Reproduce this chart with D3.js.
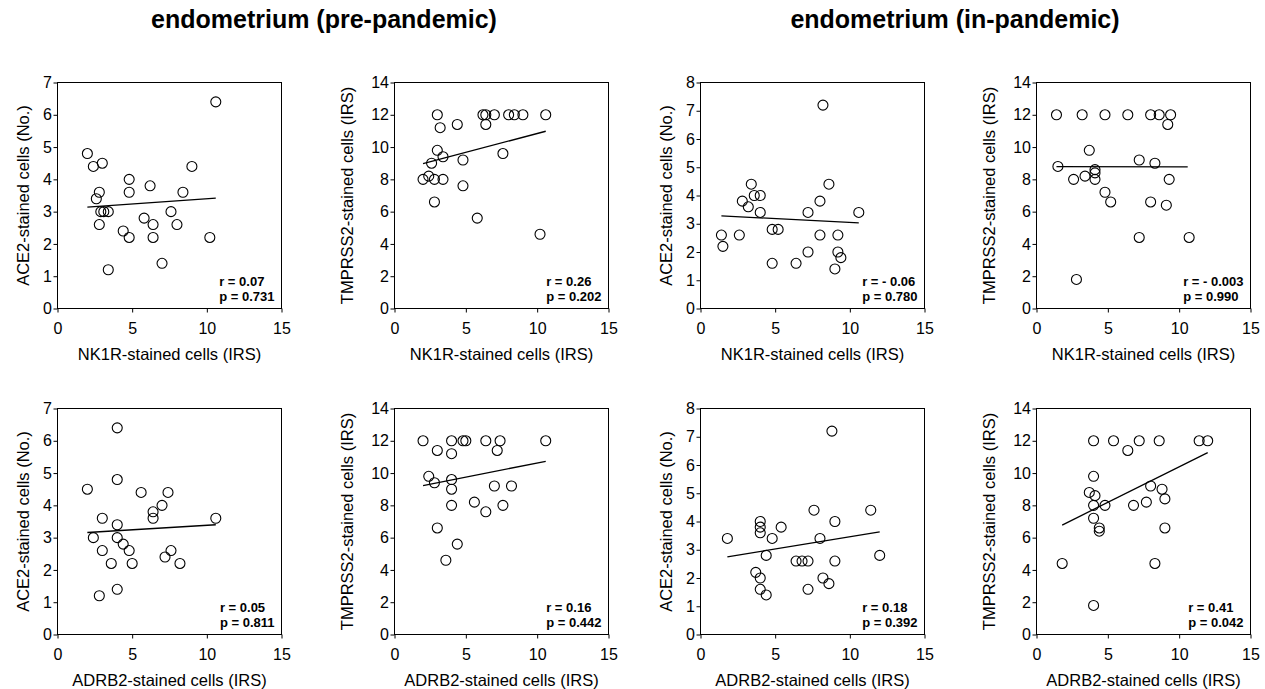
<!DOCTYPE html>
<html>
<head>
<meta charset="utf-8">
<script src="https://cdn.jsdelivr.net/npm/d3@7"></script>
<style>
  body { margin: 0; background: #fff; }
  svg { display: block; font-family: Arial, "Liberation Sans", sans-serif; }
</style>
</head>
<body>
<div id="chart"></div>
<script>
// ---- data ----
const titles = ["endometrium (pre-pandemic)", "endometrium (in-pandemic)"];
const xLabels = ["NK1R-stained cells (IRS)", "ADRB2-stained cells (IRS)"];
const yLabels = ["ACE2-stained cells (No.)", "TMPRSS2-stained cells (IRS)"];
const xTicks = [0, 5, 10, 15];
const yMaxes = [7, 14, 8, 14, 7, 14, 8, 14];
const yTickSteps = [1, 2, 1, 2, 1, 2, 1, 2];

const pre_nk1r_ace2 = [[10.6,6.4],[2.0,4.8],[2.4,4.4],[3.0,4.5],[9.0,4.4],[4.8,4.0],[6.2,3.8],[2.8,3.6],[4.8,3.6],[8.4,3.6],[2.6,3.4],[2.9,3.0],[3.1,3.0],[3.4,3.0],[7.6,3.0],[5.8,2.8],[2.8,2.6],[6.4,2.6],[8.0,2.6],[4.4,2.4],[4.8,2.2],[6.4,2.2],[10.2,2.2],[7.0,1.4],[3.4,1.2]];
const pre_nk1r_tmprss2 = [[3.0,12],[6.2,12],[6.4,12],[7.0,12],[8.0,12],[8.4,12],[9.0,12],[10.6,12],[4.4,11.4],[6.4,11.4],[3.2,11.2],[3.0,9.8],[7.6,9.6],[3.4,9.4],[4.8,9.2],[2.6,9.0],[2.4,8.2],[2.0,8.0],[2.8,8.0],[3.4,8.0],[4.8,7.6],[2.8,6.6],[5.8,5.6],[10.2,4.6]];
const in_nk1r_ace2 = [[8.2,7.2],[3.4,4.4],[8.6,4.4],[3.6,4.0],[4.0,4.0],[2.8,3.8],[8.0,3.8],[3.2,3.6],[4.0,3.4],[7.2,3.4],[10.6,3.4],[4.8,2.8],[5.2,2.8],[1.4,2.6],[2.6,2.6],[8.0,2.6],[9.2,2.6],[1.5,2.2],[7.2,2.0],[9.2,2.0],[9.4,1.8],[4.8,1.6],[6.4,1.6],[9.0,1.4]];
const in_nk1r_tmprss2 = [[1.4,12],[3.2,12],[4.8,12],[6.4,12],[8.0,12],[8.6,12],[9.4,12],[9.2,11.4],[3.7,9.8],[1.5,8.8],[7.2,9.2],[8.3,9.0],[4.1,8.6],[4.1,8.4],[3.4,8.2],[2.6,8.0],[4.1,8.0],[9.3,8.0],[4.8,7.2],[5.2,6.6],[8.0,6.6],[9.1,6.4],[7.2,4.4],[10.7,4.4],[2.8,1.8]];
const pre_adrb2_ace2 = [[4.0,6.4],[4.0,4.8],[2.0,4.5],[5.6,4.4],[7.4,4.4],[7.0,4.0],[6.4,3.8],[6.4,3.6],[3.0,3.6],[10.6,3.6],[4.0,3.4],[2.4,3.0],[4.0,3.0],[4.4,2.8],[3.0,2.6],[4.8,2.6],[7.6,2.6],[7.2,2.4],[3.6,2.2],[5.0,2.2],[8.2,2.2],[4.0,1.4],[2.8,1.2]];
const pre_adrb2_tmprss2 = [[2.0,12],[4.0,12],[4.8,12],[5.0,12],[6.4,12],[7.4,12],[10.6,12],[3.0,11.4],[7.2,11.4],[4.0,11.2],[2.4,9.8],[4.0,9.6],[2.8,9.4],[7.0,9.2],[8.2,9.2],[4.0,9.0],[5.6,8.2],[4.0,8.0],[7.6,8.0],[6.4,7.6],[3.0,6.6],[4.4,5.6],[3.6,4.6]];
const in_adrb2_ace2 = [[8.8,7.2],[7.6,4.4],[11.4,4.4],[4.0,4.0],[9.0,4.0],[4.0,3.8],[5.4,3.8],[4.0,3.6],[1.8,3.4],[4.8,3.4],[8.0,3.4],[4.4,2.8],[12.0,2.8],[6.4,2.6],[6.8,2.6],[7.2,2.6],[9.0,2.6],[3.7,2.2],[4.0,2.0],[8.2,2.0],[8.6,1.8],[4.0,1.6],[7.2,1.6],[4.4,1.4]];
const in_adrb2_tmprss2 = [[4.0,12],[5.4,12],[7.2,12],[8.6,12],[11.4,12],[12.0,12],[6.4,11.4],[4.0,9.8],[8.0,9.2],[8.8,9.0],[3.7,8.8],[4.1,8.6],[9.0,8.4],[7.7,8.2],[4.0,8.0],[4.8,8.0],[6.8,8.0],[4.0,7.2],[4.4,6.6],[4.4,6.4],[9.0,6.6],[1.8,4.4],[8.3,4.4],[4.0,1.8]];

// fitted line end points
const fits = [
  [[2.0,3.14],[10.6,3.42]],
  [[2.0,8.97],[10.6,10.98]],
  [[1.4,3.28],[10.6,3.03]],
  [[1.4,8.79],[10.6,8.77]],
  [[2.0,3.16],[10.6,3.40]],
  [[2.0,9.22],[10.6,10.73]],
  [[1.8,2.75],[12.0,3.63]],
  [[1.8,6.78],[12.0,11.27]]
];
const stats = [
  ["r = 0.07", "p = 0.731"],
  ["r = 0.26", "p = 0.202"],
  ["r = - 0.06", "p = 0.780"],
  ["r = - 0.003", "p = 0.990"],
  ["r = 0.05", "p = 0.811"],
  ["r = 0.16", "p = 0.442"],
  ["r = 0.18", "p = 0.392"],
  ["r = 0.41", "p = 0.042"]
];
const points = [pre_nk1r_ace2, pre_nk1r_tmprss2, in_nk1r_ace2, in_nk1r_tmprss2,
                pre_adrb2_ace2, pre_adrb2_tmprss2, in_adrb2_ace2, in_adrb2_tmprss2];

// ---- layout ----
const width = 1265, height = 689;
const colLeft = [57.5, 394.5, 700.5, 1036.5];
const colRight = [281.5, 608.5, 924.5, 1250.5];
const rowTop = [82.5, 408.5];
const rowBottom = [308.5, 634.5];
const titleX = [324, 955];

let svg = d3.select("#chart")
    .append("svg")
    .attr("width", width)
    .attr("height", height);

titles.forEach(function(t, i) {
    svg.append("text")
        .attr("x", titleX[i])
        .attr("y", 28)
        .style("text-anchor", "middle")
        .style("font-size", "25px")
        .style("font-weight", "bold")
        .text(t);
});

points.forEach(function(data, i) {
    let col = i % 4, row = Math.floor(i / 4);
    let yMax = yMaxes[i];

    let x = d3.scaleLinear().domain([0, 15]).range([colLeft[col], colRight[col]]);
    let y = d3.scaleLinear().domain([0, yMax]).range([rowBottom[row], rowTop[row]]);

    let g = svg.append("g");

    // frame round the plot
    g.append("rect")
        .attr("x", x(0))
        .attr("y", y(yMax))
        .attr("width", x(15) - x(0))
        .attr("height", y(0) - y(yMax))
        .attr("fill", "none")
        .attr("stroke", "#000")
        .attr("stroke-width", 1);

    // x axis
    let xa = g.append("g")
        .attr("transform", `translate(0, ${y(0)})`)
        .call(d3.axisBottom(x).tickValues(xTicks).tickFormat(d3.format("d"))
            .tickSize(4).tickSizeOuter(0).tickPadding(10));
    // y axis
    let yTicks = d3.range(0, yMax + 0.001, yTickSteps[i]);
    let ya = g.append("g")
        .attr("transform", `translate(${x(0)}, 0)`)
        .call(d3.axisLeft(y).tickValues(yTicks).tickFormat(d3.format("d"))
            .tickSize(4).tickSizeOuter(0).tickPadding(1.5));

    [xa, ya].forEach(function(a) {
        a.select(".domain").remove();
        a.selectAll("line").attr("stroke", "#000");
        a.selectAll("text")
            .attr("fill", "#000")
            .style("font-size", "16px")
            .style("font-family", "Arial, 'Liberation Sans', sans-serif");
    });

    // axis titles
    g.append("text")
        .attr("x", (x(0) + x(15)) / 2)
        .attr("y", y(0) + 51)
        .style("text-anchor", "middle")
        .style("font-size", "16.5px")
        .text(xLabels[row]);

    let yOff = yMax >= 10 ? 42 : 29;
    g.append("text")
        .attr("transform", `translate(${x(0) - yOff}, ${(y(0) + y(yMax)) / 2}) rotate(-90)`)
        .style("text-anchor", "middle")
        .style("font-size", "16.5px")
        .text(yLabels[col % 2]);

    // regression line
    g.append("path")
        .datum(fits[i])
        .attr("fill", "none")
        .attr("stroke", "#000")
        .attr("stroke-width", 1.3)
        .attr("d", d3.line().x(function(d) { return x(d[0]); }).y(function(d) { return y(d[1]); }));

    // points
    g.selectAll("circle")
        .data(data)
        .enter()
        .append("circle")
        .attr("cx", function(d) { return x(d[0]); })
        .attr("cy", function(d) { return y(d[1]); })
        .attr("r", 5)
        .attr("fill", "none")
        .attr("stroke", "#000")
        .attr("stroke-width", 1.1);

    // r / p text, left aligned, tucked into the lower right corner
    let st = g.selectAll(".stat")
        .data(stats[i])
        .enter()
        .append("text")
        .attr("class", "stat")
        .attr("y", function(d, j) { return y(0) - 23 + j * 15.7; })
        .style("font-size", "13px")
        .style("font-weight", "bold")
        .text(function(d) { return d; });
    let w = 0;
    st.each(function() { w = Math.max(w, this.getComputedTextLength()); });
    st.attr("x", x(15) - w - 7);
});
</script>
</body>
</html>
